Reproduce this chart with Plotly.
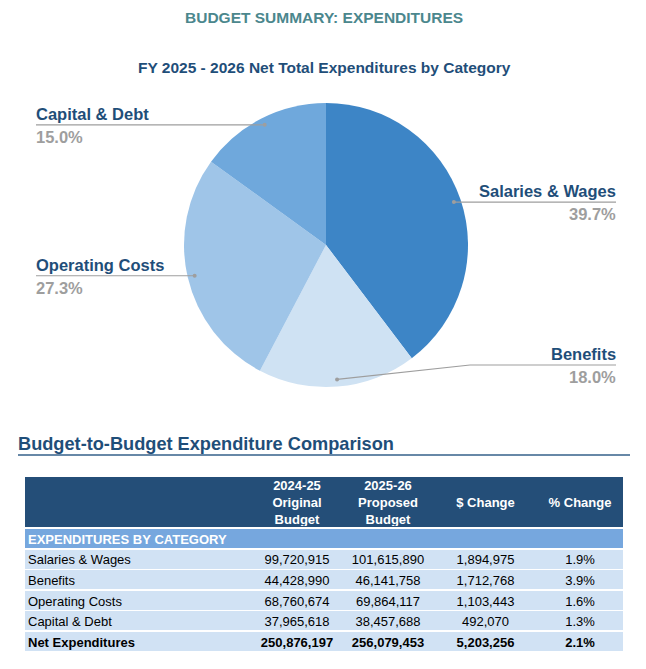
import math
import numpy as np
import plotly.graph_objects as go

W, H = 646, 669
FONT = "Liberation Sans, Arial, sans-serif"
NB = "\u00a0"

# ---------------- data ----------------
categories = ["Salaries & Wages", "Benefits", "Operating Costs", "Capital & Debt"]
budget_2425 = [99720915, 44428990, 68760674, 37965618]
budget_2526 = [101615890, 46141758, 69864117, 38457688]
dollar_change = [1894975, 1712768, 1103443, 492070]
pct_change = [1.9, 3.9, 1.6, 1.3]
total_label = "Net Expenditures"
total_2425 = 250876197
total_2526 = 256079453
total_change = 5203256
total_pct = 2.1
section_label = "EXPENDITURES BY CATEGORY"
header_labels = [
    ["", "", ""],
    ["2024-25", "Original", "Budget"],
    ["2025-26", "Proposed", "Budget"],
    ["", "$ Change", ""],
    ["", "% Change", ""],
]

# ---------------- styles ----------------
slice_colors = ["#3d85c6", "#cfe2f3", "#9fc5e8", "#6fa8dc"]
DARK_BLUE = "#1f4e79"
TEAL = "#4b878d"
GRAY = "#9e9e9e"
HEADER_FILL = "#244e78"
SECTION_FILL = "#76a7de"
ROW_FILL = "#d1e2f4"
CLEAR = "rgba(0,0,0,0)"

# pie geometry (pixels)
PIE_CX, PIE_CY, PIE_R = 326, 245, 142
label_side = {"Salaries & Wages": "right", "Benefits": "right",
              "Operating Costs": "left", "Capital & Debt": "left"}
LEFT_X, RIGHT_X = 36, 616
ANN_PAD = 2
elbow = {"Benefits": (470, 365)}

# table geometry (pixels)
TBL_X0, TBL_X1 = 25, 623
HDR_Y0, HDR_Y1 = 477, 527
HDR_TEXT_TOP = 472
HDR_ROW_H = 17
ROW_PERIOD = 20.6
ROW_GAP = 2
TEXT_LIFT = 3          # plotly table text sits ~3px lower than in the source
TEXT_SHIFT_X = 5       # and ~5px further right in the first column
COL_W = [227, 90, 92, 103, 86]
COL_W_TEXT = [COL_W[0] + TEXT_SHIFT_X] + COL_W[1:]


def px(x):
    return x / W


def py(y):
    return 1 - y / H


def nb(s):
    return s.replace(" ", NB)


fig = go.Figure()

fig.add_trace(go.Pie(
    labels=categories,
    values=budget_2526,
    sort=False,
    direction="clockwise",
    rotation=0,
    marker=dict(colors=slice_colors, line=dict(width=0)),
    textinfo="none",
    hoverinfo="skip",
    showlegend=False,
    domain=dict(x=[px(PIE_CX - PIE_R), px(PIE_CX + PIE_R)],
                y=[py(PIE_CY + PIE_R), py(PIE_CY - PIE_R)]),
))

annotations = []
shapes = []

# titles
annotations.append(dict(text="<b>BUDGET SUMMARY: EXPENDITURES</b>", x=px(324), y=py(18),
                        xanchor="center", yanchor="middle", showarrow=False,
                        font=dict(family=FONT, size=15.5, color=TEAL)))
annotations.append(dict(text="<b>FY 2025 - 2026 Net Total Expenditures by Category</b>",
                        x=px(324.5), y=py(67), xanchor="center", yanchor="middle",
                        showarrow=False, font=dict(family=FONT, size=15.5, color=DARK_BLUE)))

# pie labels with leader lines
total = sum(budget_2526)
cum = 0.0
for cat, v in zip(categories, budget_2526):
    frac = v / total
    theta = 2 * math.pi * (cum + frac / 2)
    cum += frac
    dx = PIE_CX + 0.95 * PIE_R * math.sin(theta)
    dy = PIE_CY - 0.95 * PIE_R * math.cos(theta)
    side = label_side[cat]
    if cat in elbow:
        ex, ly = elbow[cat]
        path = f"M {px(dx)} {py(dy)} L {px(ex)} {py(ly)} L {px(RIGHT_X)} {py(ly)}"
    else:
        ly = dy
        if side == "left":
            path = f"M {px(LEFT_X)} {py(ly)} L {px(dx)} {py(ly)}"
        else:
            path = f"M {px(dx)} {py(ly)} L {px(RIGHT_X)} {py(ly)}"
    shapes.append(dict(type="path", path=path, xref="paper", yref="paper",
                       line=dict(color=GRAY, width=1.2)))
    shapes.append(dict(type="circle", xref="paper", yref="paper",
                       x0=px(dx - 2), x1=px(dx + 2), y0=py(dy + 2), y1=py(dy - 2),
                       fillcolor=GRAY, line=dict(width=0)))
    lx = LEFT_X - ANN_PAD if side == "left" else RIGHT_X + ANN_PAD
    anchor = "left" if side == "left" else "right"
    annotations.append(dict(text=f"<b>{cat}</b>", x=px(lx), y=py(ly - 11),
                            xanchor=anchor, yanchor="middle", showarrow=False,
                            font=dict(family=FONT, size=16.5, color=DARK_BLUE)))
    annotations.append(dict(text=f"<b>{frac * 100:.1f}%</b>", x=px(lx), y=py(ly + 12),
                            xanchor=anchor, yanchor="middle", showarrow=False,
                            font=dict(family=FONT, size=16.5, color=GRAY)))

# table title + rule
annotations.append(dict(text="<b>Budget-to-Budget Expenditure Comparison</b>",
                        x=px(16), y=py(444), xanchor="left", yanchor="middle",
                        showarrow=False, font=dict(family=FONT, size=18.2, color=DARK_BLUE)))
shapes.append(dict(type="line", xref="paper", yref="paper", x0=px(18), x1=px(630),
                   y0=py(455), y1=py(455), line=dict(color="#35608a", width=1.5)))


def fmt(v):
    return f"{v:,}"


n_cols = len(COL_W)
n_rows = len(categories)
aligns = ["left", "center", "center", "center", "center"]
dom_x = [px(TBL_X0), px(TBL_X1)]
dom_x_text = [px(TBL_X0 - TEXT_SHIFT_X), px(TBL_X1)]


def fill_band(top, height, color):
    """One table row used as a coloured band (no text)."""
    fig.add_trace(go.Table(
        domain=dict(x=dom_x, y=[py(top + height + 1), py(top)]),
        columnwidth=COL_W,
        header=dict(values=[""] * n_cols, fill_color=color,
                    line=dict(color=color, width=0), height=height),
        cells=dict(values=[[] for _ in range(n_cols)]),
        hoverinfo="skip",
    ))


# ---- bands: column-title band, section band, data rows, total row ----
fill_band(HDR_Y0, HDR_Y1 - HDR_Y0, HEADER_FILL)
band_colors = [SECTION_FILL] + [ROW_FILL] * n_rows + [ROW_FILL]
for i, col in enumerate(band_colors):
    fill_band(HDR_Y1 + ROW_GAP + i * ROW_PERIOD, ROW_PERIOD - ROW_GAP + 0.4, col)

# ---- column titles (three stacked header rows) ----
fig.add_trace(go.Table(
    domain=dict(x=dom_x_text, y=[py(HDR_Y1), py(HDR_TEXT_TOP)]),
    columnwidth=COL_W_TEXT,
    header=dict(values=[[nb(s) for s in col] for col in header_labels],
                fill_color=CLEAR, align="center", line=dict(color=CLEAR, width=0),
                font=dict(family=FONT, size=13, color="white", weight="bold"),
                height=HDR_ROW_H),
    cells=dict(values=[[] for _ in header_labels]),
    hoverinfo="skip",
))

# ---- section title + data rows ----
labels_col = [nb(c) for c in categories]
col2 = [fmt(v) for v in budget_2425]
col3 = [fmt(v) for v in budget_2526]
col4 = [fmt(v) for v in dollar_change]
col5 = [f"{v:.1f}%" for v in pct_change]
# first column text is given as prefix (plain text, so "&" is not parsed as markup)
prefix = np.array([labels_col] + [[""] * n_rows] * (n_cols - 1), dtype=str)

text_top = HDR_Y1 + ROW_GAP - TEXT_LIFT
fig.add_trace(go.Table(
    domain=dict(x=dom_x_text, y=[py(text_top + (n_rows + 1) * ROW_PERIOD + 3), py(text_top)]),
    columnwidth=COL_W_TEXT,
    header=dict(values=[nb(section_label)] + [""] * (n_cols - 1),
                fill_color=CLEAR, align="left", line=dict(color=CLEAR, width=0),
                font=dict(family=FONT, size=13, color="white", weight="bold"),
                height=ROW_PERIOD),
    cells=dict(values=[[""] * n_rows, col2, col3, col4, col5],
               prefix=prefix, fill_color=CLEAR, align=aligns,
               line=dict(color=CLEAR, width=0),
               font=dict(family=FONT, size=13, color="black"),
               height=ROW_PERIOD),
    hoverinfo="skip",
))

# ---- total row (bold) ----
total_top = text_top + (n_rows + 1) * ROW_PERIOD
fig.add_trace(go.Table(
    domain=dict(x=dom_x_text, y=[py(total_top + ROW_PERIOD + 3), py(total_top)]),
    columnwidth=COL_W_TEXT,
    header=dict(values=[nb(total_label), fmt(total_2425), fmt(total_2526),
                        fmt(total_change), f"{total_pct:.1f}%"],
                fill_color=CLEAR, align=aligns, line=dict(color=CLEAR, width=0),
                font=dict(family=FONT, size=13, color="black", weight="bold"),
                height=ROW_PERIOD),
    cells=dict(values=[[] for _ in range(n_cols)]),
    hoverinfo="skip",
))

fig.update_layout(width=W, height=H, margin=dict(l=0, r=0, t=0, b=0),
                  paper_bgcolor="white", plot_bgcolor="white",
                  annotations=annotations, shapes=shapes, showlegend=False)

fig.write_html("out.html", config={"displayModeBar": False},
               post_script="document.body.style.margin='0';")
